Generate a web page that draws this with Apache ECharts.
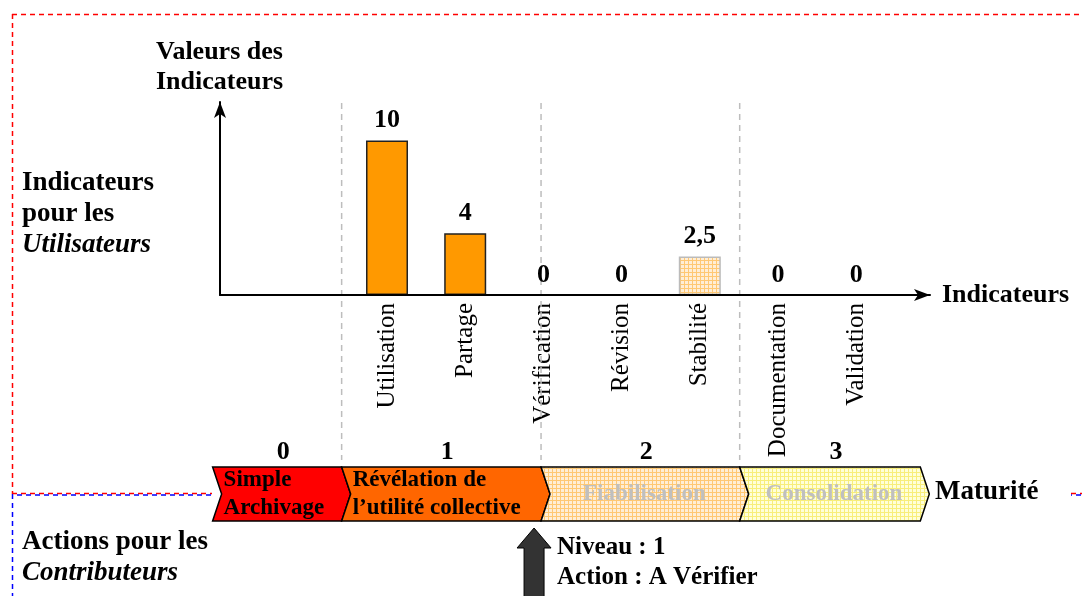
<!DOCTYPE html>
<html><head><meta charset="utf-8">
<script src="https://cdn.jsdelivr.net/npm/echarts@6/dist/echarts.min.js"></script>
<style>html,body{margin:0;padding:0;background:#fff}#c{width:1082px;height:596px}</style>
</head><body><div id="c"></div>
<script>
// ---- data ----
const indicators = ['Utilisation', 'Partage', 'Vérification', 'Révision', 'Stabilité', 'Documentation', 'Validation'];
const indicatorValues = [10, 4, 0, 0, 2.5, 0, 0];
const indicatorLevel = [1, 1, 1, 2, 2, 3, 3];
const levelNumbers = ['0', '1', '2', '3'];
const levelNames = ['Simple\nArchivage', 'Révélation de\nl’utilité collective', 'Fiabilisation', 'Consolidation'];
// extent of each maturity level, in indicator-index units
const levelStart = [-2.23, -0.58, 1.97, 4.51];
const levelEnd = [-0.58, 1.97, 4.51, 6.82];
const currentLevel = 1;
const currentAction = 'A Vérifier';

// ---- styles ----
const FF = '"Liberation Serif", "Times New Roman", serif';
function makePattern(bg, line) {
  const c = document.createElement('canvas'); c.width = 4; c.height = 4;
  const g = c.getContext('2d');
  g.fillStyle = bg; g.fillRect(0, 0, 4, 4);
  g.fillStyle = line; g.fillRect(0, 0, 4, 1); g.fillRect(0, 0, 1, 4);
  return { image: c, repeat: 'repeat' };
}
const orangePattern = makePattern('#FFEED6', '#FFC873');
const yellowPattern = makePattern('#FFFFD8', '#F8EE7A');
const levelFills = ['#FF0000', '#FF6600', orangePattern, yellowPattern];
const levelTextColors = ['#000', '#000', '#BFBFBF', '#BFBFBF'];

const chart = echarts.init(document.getElementById('c'), null, { renderer: 'canvas' });

const barData = indicatorValues.map((v, i) => ({
  value: v,
  itemStyle: v === 0
    ? { color: 'rgba(0,0,0,0)', borderWidth: 0 }
    : indicatorLevel[i] <= currentLevel
      ? { color: '#FF9900', borderColor: '#222', borderWidth: 1.5 }
      : { color: orangePattern, borderColor: '#BBBBBB', borderWidth: 1.5 }
}));

function renderLevel(params, api) {
  const i = params.dataIndex;
  const x0 = api.coord([api.value(0), 0])[0];
  const x1 = api.coord([api.value(1), 0])[0];
  const top = 467, bot = 521, mid = 494, d = 9;
  const children = [];
  if (i > 0) {
    children.push({
      type: 'line', shape: { x1: x0, y1: 103, x2: x0, y2: 460 },
      style: { stroke: '#BDBDBD', lineWidth: 1.5, lineDash: [6, 5] }
    });
  }
  children.push({
    type: 'polygon',
    shape: { points: [[x0, top], [x1, top], [x1 + d, mid], [x1, bot], [x0, bot], [x0 + d, mid]] },
    style: { fill: levelFills[i], stroke: '#000', lineWidth: 1.5 }
  });
  const leftText = i <= currentLevel;
  children.push({
    type: 'text',
    style: {
      x: leftText ? x0 + 11 : (x0 + x1) / 2 + 4,
      y: mid,
      text: levelNames[i],
      align: leftText ? 'left' : 'center',
      verticalAlign: 'middle',
      fontFamily: FF, fontSize: 23, fontWeight: 'bold', lineHeight: 28,
      fill: levelTextColors[i]
    }
  });
  children.push({
    type: 'text',
    style: {
      x: (x0 + x1) / 2 + 6, y: 452, text: levelNumbers[i],
      align: 'center', verticalAlign: 'middle',
      fontFamily: FF, fontSize: 26, fontWeight: 'bold', fill: '#000'
    }
  });
  if (i === currentLevel) {
    const cx = x1 - 7;
    children.push({
      type: 'polygon',
      shape: { points: [[cx, 528], [cx + 17, 548], [cx + 10, 548], [cx + 10, 600], [cx - 10, 600], [cx - 10, 548], [cx - 17, 548]] },
      style: { fill: '#333333', stroke: '#000', lineWidth: 1 }
    });
    children.push({
      type: 'text',
      style: {
        x: x1 + 16, y: 533,
        text: 'Niveau : ' + levelNumbers[currentLevel] + '\nAction : ' + currentAction,
        align: 'left', verticalAlign: 'top',
        fontFamily: FF, fontSize: 25, fontWeight: 'bold', lineHeight: 30, fill: '#000'
      }
    });
  }
  return { type: 'group', children };
}

const hidden = { show: false };
const option = {
  animation: false,
  backgroundColor: '#fff',
  grid: [
    { left: 220, right: 152, top: 102, bottom: 301 },
    { left: 347.9, width: 547.4, top: 102, bottom: 301 },
    { left: 347.9, width: 547.4, top: 102, bottom: 301 }
  ],
  xAxis: [
    {
      gridIndex: 0, type: 'value', min: 0, max: 1, z: 5,
      axisLine: { show: true, onZero: false, symbol: ['none', 'arrow'], symbolSize: [9, 16], lineStyle: { color: '#000', width: 2 } },
      axisTick: hidden, axisLabel: hidden, splitLine: hidden,
      name: 'Indicateurs', nameLocation: 'end', nameGap: 12,
      nameTextStyle: { fontFamily: FF, fontSize: 26, fontWeight: 'bold', color: '#000', verticalAlign: 'middle' }
    },
    {
      gridIndex: 1, type: 'category', data: indicators,
      axisLine: hidden, axisTick: hidden, splitLine: hidden,
      axisLabel: { rotate: 90, margin: 8, fontFamily: FF, fontSize: 25, color: '#000' }
    },
    { gridIndex: 2, type: 'value', min: -0.5, max: 6.5, show: false }
  ],
  yAxis: [
    {
      gridIndex: 0, type: 'value', min: 0, max: 1, z: 5,
      axisLine: { show: true, onZero: false, symbol: ['none', 'arrow'], symbolSize: [9, 16], lineStyle: { color: '#000', width: 2 } },
      axisTick: hidden, axisLabel: hidden, splitLine: hidden
    },
    { gridIndex: 1, type: 'value', min: 0, max: 12.5, show: false },
    { gridIndex: 2, type: 'value', min: 0, max: 1, show: false }
  ],
  series: [
    {
      type: 'bar', xAxisIndex: 1, yAxisIndex: 1, barWidth: 42,
      data: barData,
      label: {
        show: true, position: 'top', distance: 7,
        fontFamily: FF, fontSize: 26, fontWeight: 'bold', color: '#000',
        formatter: p => String(p.value).replace('.', ',')
      }
    },
    {
      type: 'custom', xAxisIndex: 2, yAxisIndex: 2, clip: false, silent: true,
      encode: { x: [0, 1] },
      data: levelNames.map((n, i) => [levelStart[i], levelEnd[i], i]),
      renderItem: renderLevel
    }
  ],
  graphic: [
    { type: 'line', shape: { x1: 12, y1: 14.5, x2: 1082, y2: 14.5 }, style: { stroke: '#FF0000', lineWidth: 1.5, lineDash: [5, 4] } },
    { type: 'line', shape: { x1: 12.5, y1: 14, x2: 12.5, y2: 494 }, style: { stroke: '#FF0000', lineWidth: 1.5, lineDash: [5, 4] } },
    { type: 'line', shape: { x1: 12.5, y1: 494, x2: 12.5, y2: 596 }, style: { stroke: '#0000FF', lineWidth: 1.5, lineDash: [5, 4] } },
    { type: 'line', shape: { x1: 12, y1: 493.5, x2: 212, y2: 493.5 }, style: { stroke: '#FF0000', lineWidth: 1.5, lineDash: [5, 4] } },
    { type: 'line', shape: { x1: 12, y1: 495, x2: 212, y2: 495 }, style: { stroke: '#0000FF', lineWidth: 1.5, lineDash: [5, 4], lineDashOffset: 4 } },
    { type: 'line', shape: { x1: 1071, y1: 493.5, x2: 1082, y2: 493.5 }, style: { stroke: '#FF0000', lineWidth: 1.5, lineDash: [5, 4] } },
    { type: 'line', shape: { x1: 1071, y1: 495, x2: 1082, y2: 495 }, style: { stroke: '#0000FF', lineWidth: 1.5, lineDash: [5, 4], lineDashOffset: 4 } },
    {
      type: 'text', left: 156, top: 37,
      style: { text: 'Valeurs des\nIndicateurs', fontFamily: FF, fontSize: 26, fontWeight: 'bold', lineHeight: 30, fill: '#000' }
    },
    {
      type: 'text', left: 22, top: 168,
      style: {
        text: 'Indicateurs\npour les\n{i|Utilisateurs}', fontFamily: FF, fontSize: 27, fontWeight: 'bold', lineHeight: 31, fill: '#000',
        rich: { i: { fontFamily: FF, fontSize: 27, fontWeight: 'bold', fontStyle: 'italic', lineHeight: 31, fill: '#000' } }
      }
    },
    {
      type: 'text', left: 22, top: 527,
      style: {
        text: 'Actions pour les\n{i|Contributeurs}', fontFamily: FF, fontSize: 27, fontWeight: 'bold', lineHeight: 31, fill: '#000',
        rich: { i: { fontFamily: FF, fontSize: 27, fontWeight: 'bold', fontStyle: 'italic', lineHeight: 31, fill: '#000' } }
      }
    },
    {
      type: 'text', left: 935, top: 476,
      style: { text: 'Maturité', fontFamily: FF, fontSize: 27, fontWeight: 'bold', lineHeight: 32, fill: '#000' }
    }
  ]
};
chart.setOption(option);
</script>
</body></html>
